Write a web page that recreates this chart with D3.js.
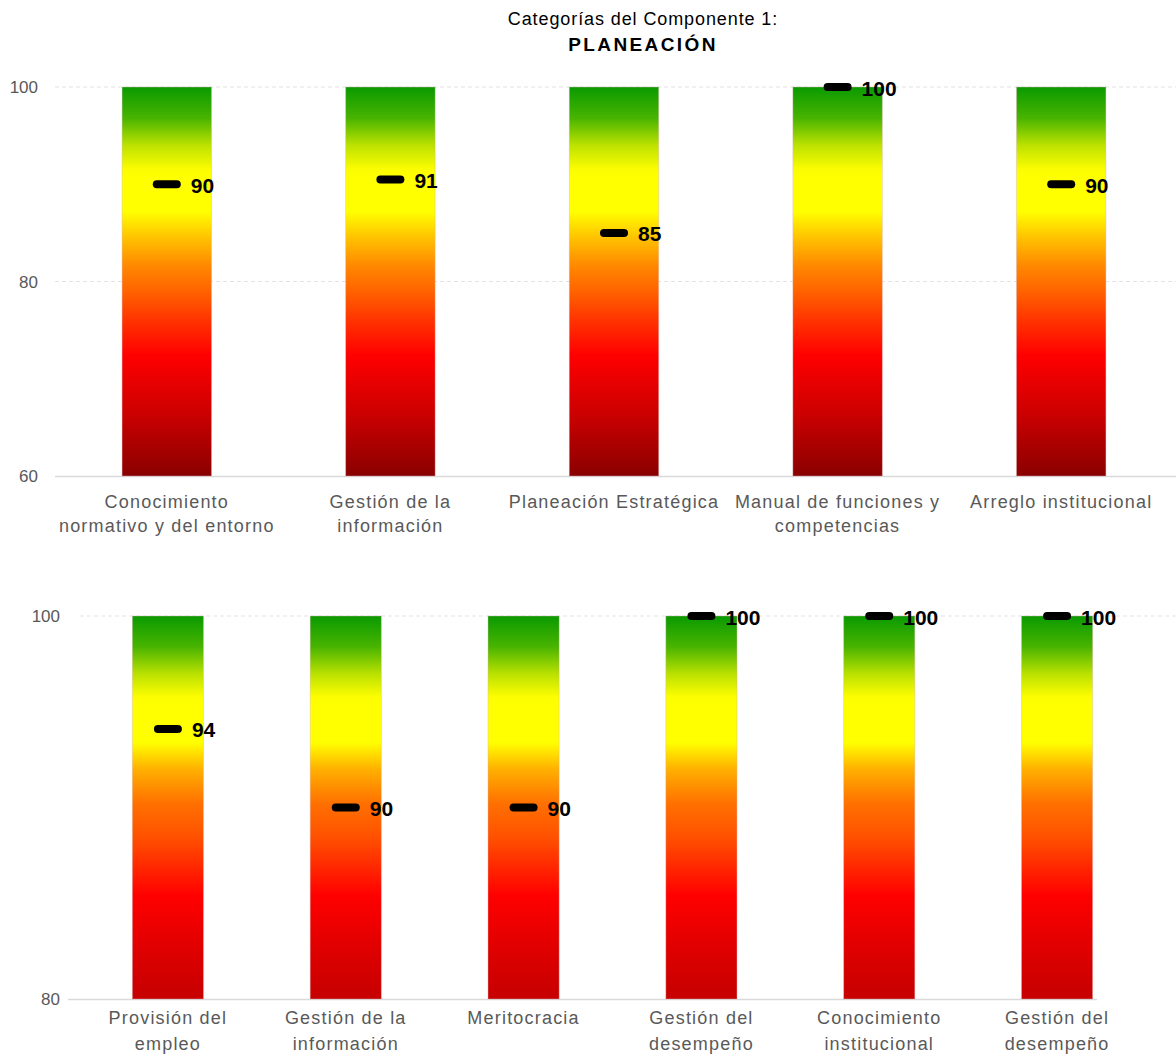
<!DOCTYPE html>
<html><head><meta charset="utf-8">
<script src="https://cdn.jsdelivr.net/npm/d3@7"></script>
<style>
body{margin:0;background:#fff;}
text{font-family:"Liberation Sans",Arial,sans-serif;}
</style></head>
<body><div id="chart"></div>
<script>
// ---------- data ----------
const titleLine1 = "Categorías del Componente 1:";
const titleLine2 = "PLANEACIÓN";

const topCategories = ["Conocimiento\nnormativo y del entorno", "Gestión de la\ninformación", "Planeación Estratégica", "Manual de funciones y\ncompetencias", "Arreglo institucional"];
const topValues = [90, 90.5, 85, 100, 90];
const topBarMax = [100, 100, 100, 100, 100];
const topTicks = [60, 80, 100];

const bottomCategories = ["Provisión del\nempleo", "Gestión de la\ninformación", "Meritocracia", "Gestión del\ndesempeño", "Conocimiento\ninstitucional", "Gestión del\ndesempeño"];
const bottomValues = [94.1, 90, 90, 100, 100, 100];
const bottomBarMax = [100, 100, 100, 100, 100, 100];
const bottomTicks = [80, 100];

// ---------- drawing ----------
const W = 1176, H = 1062;
const svg = d3.select("#chart").append("svg").attr("width", W).attr("height", H);
const defs = svg.append("defs");

function gradient(id, stops) {
  const g = defs.append("linearGradient").attr("id", id)
    .attr("x1", 0).attr("y1", 0).attr("x2", 0).attr("y2", 1);
  stops.forEach(s => g.append("stop").attr("offset", s[0]).attr("stop-color", s[1]));
}
gradient("gTop", [[0, "#0a9a00"], [0.08, "#48b400"], [0.15, "#bde200"], [0.21, "#fafc00"], [0.23, "#ffff00"], [0.32, "#ffff00"], [0.39, "#ffc000"], [0.46, "#ff8800"], [0.52, "#ff6600"], [0.6, "#ff3300"], [0.69, "#ff0000"], [0.84, "#cc0000"], [1, "#8a0000"]]);
gradient("gBot", [[0, "#0a9a00"], [0.08, "#48b400"], [0.15, "#b8e000"], [0.21, "#fcfd00"], [0.23, "#ffff00"], [0.33, "#ffff00"], [0.4, "#ffb000"], [0.49, "#ff7000"], [0.58, "#ff5000"], [0.73, "#ff0000"], [0.88, "#dd0000"], [1, "#c60000"]]);

// title
svg.append("text").attr("x", 643).attr("y", 25).attr("text-anchor", "middle")
  .attr("font-size", 18).attr("letter-spacing", 0.9).attr("fill", "#000").text(titleLine1);
svg.append("text").attr("x", 643).attr("y", 51).attr("text-anchor", "middle")
  .attr("font-size", 19).attr("font-weight", "bold").attr("letter-spacing", 2.4).attr("fill", "#000").text(titleLine2);

function panel(cfg) {
  const g = svg.append("g");
  const x = d3.scaleBand().domain(d3.range(cfg.cats.length)).range(cfg.xRange).paddingInner(0.6).paddingOuter(0.3);
  const y = d3.scaleLinear().domain(cfg.yDomain).range(cfg.yRange);

  // gridlines
  g.selectAll(".grid").data(cfg.ticks.filter(t => t !== cfg.yDomain[0])).enter().append("line")
    .attr("x1", cfg.gridX[0]).attr("x2", cfg.gridX[1])
    .attr("y1", d => y(d)).attr("y2", d => y(d))
    .attr("stroke", "#e3e3e3").attr("stroke-width", 1).attr("stroke-dasharray", "4,3");
  // baseline
  g.append("line").attr("x1", cfg.baseX[0]).attr("x2", cfg.baseX[1])
    .attr("y1", y(cfg.yDomain[0]) + 0.5).attr("y2", y(cfg.yDomain[0]) + 0.5)
    .attr("stroke", "#d9d9d9").attr("stroke-width", 1.5);

  // y tick labels via axis
  const axis = d3.axisLeft(y).tickValues(cfg.ticks).tickSize(0).tickPadding(0).tickFormat(d3.format("d"));
  const ax = g.append("g").attr("transform", `translate(${cfg.tickX},0)`).call(axis);
  ax.select(".domain").remove();
  ax.selectAll("text").attr("font-size", 17).attr("fill", "#595959")
    .attr("font-family", "'Liberation Sans',Arial,sans-serif").attr("dy", "0.35em");

  // bars
  g.selectAll(".bar").data(cfg.barMax).enter().append("rect")
    .attr("x", (d, i) => x(i)).attr("width", x.bandwidth())
    .attr("y", d => y(d)).attr("height", d => y(cfg.yDomain[0]) - y(d))
    .attr("fill", `url(#${cfg.grad})`)
    .attr("stroke", "rgba(220,180,180,0.5)").attr("stroke-width", 0.8);

  // markers
  const cx = i => x(i) + x.bandwidth() / 2;
  g.selectAll(".mk").data(cfg.vals).enter().append("line")
    .attr("x1", (d, i) => cx(i) - 10).attr("x2", (d, i) => cx(i) + 10)
    .attr("y1", d => y(d)).attr("y2", d => y(d))
    .attr("stroke", "#000").attr("stroke-width", 8).attr("stroke-linecap", "round");
  g.selectAll(".vl").data(cfg.vals).enter().append("text")
    .attr("x", (d, i) => cx(i) + 24).attr("y", d => y(d) + 1)
    .attr("dominant-baseline", "central")
    .attr("font-size", 21).attr("font-weight", "bold").attr("fill", "#000")
    .text(d => Math.round(d));

  // category labels
  g.selectAll(".cl").data(cfg.cats).enter().append("text")
    .attr("x", (d, i) => cx(i)).attr("y", cfg.labelY)
    .attr("text-anchor", "middle").attr("font-size", 18).attr("letter-spacing", 1.2).attr("fill", "#595959")
    .each(function (d) {
      const t = d3.select(this);
      d.split("\n").forEach((line, k) => {
        t.append("tspan").attr("x", t.attr("x")).attr("dy", k === 0 ? 0 : cfg.lineH).text(line);
      });
    });
}

panel({
  cats: topCategories, vals: topValues, barMax: topBarMax, ticks: topTicks,
  xRange: [55, 1173], yDomain: [60, 100], yRange: [476, 87],
  gridX: [55, 1176], baseX: [55, 1176], tickX: 38, grad: "gTop", labelY: 508, lineH: 24
});
panel({
  cats: bottomCategories, vals: bottomValues, barMax: bottomBarMax, ticks: bottomTicks,
  xRange: [79, 1146], yDomain: [80, 100], yRange: [999, 616],
  gridX: [80, 1176], baseX: [68, 1097], tickX: 60, grad: "gBot", labelY: 1024, lineH: 26
});
</script>
</body></html>
